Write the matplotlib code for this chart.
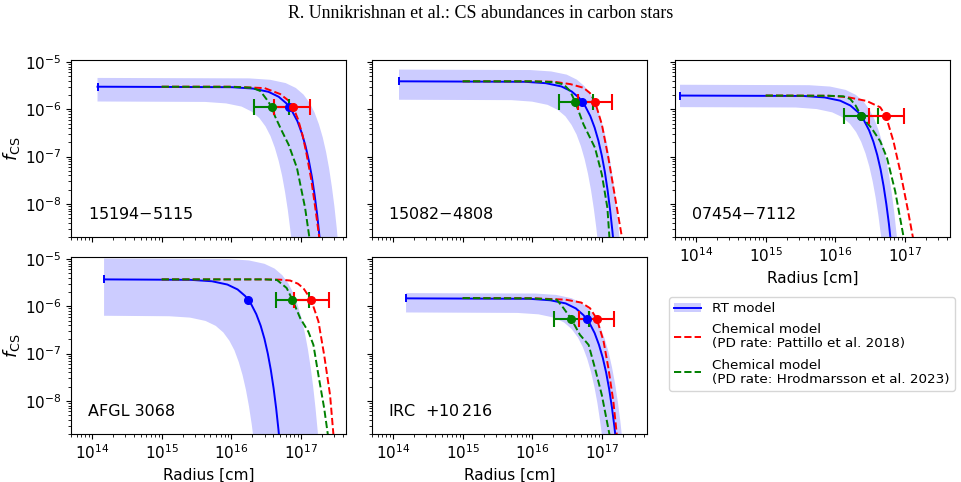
import matplotlib.pyplot as plt
from matplotlib.lines import Line2D
from matplotlib.patches import Patch

# ---- 15194-5115 ----
s1_rt_r = [1.2e14, 1.02e16, 2.04e16, 3.4e16, 4.76e16, 6.12e16, 7.48e16, 8.84e16, 1.02e17, 1.156e17,
           1.292e17, 1.428e17, 1.564e17, 1.7e17, 1.836e17, 1.972e17]
s1_rt_f = [3.0e-6, 2.93e-6, 2.74e-6, 2.34e-6, 1.84e-6, 1.34e-6, 8.9e-7, 5.6e-7, 3.15e-7, 1.67e-7,
           8.1e-8, 3.7e-8, 1.51e-8, 5.8e-9, 2.0e-9, 6.7e-10]
s1_hi_r = [1.2e14, 1.8e16, 3.6e16, 6.0e16, 8.4e16, 1.08e17, 1.32e17, 1.56e17, 1.8e17, 2.04e17,
           2.28e17, 2.52e17, 2.76e17, 3.0e17, 3.24e17, 3.48e17]
s1_hi_f = [4.6e-6, 4.5e-6, 4.2e-6, 3.58e-6, 2.82e-6, 2.05e-6, 1.37e-6, 8.5e-7, 4.8e-7, 2.56e-7,
           1.25e-7, 5.6e-8, 2.3e-8, 8.9e-9, 3.1e-9, 1.0e-9]
s1_lo_r = [1.2e14, 4.2e15, 8.4e15, 1.4e16, 1.96e16, 2.52e16, 3.08e16, 3.64e16, 4.2e16, 4.76e16,
           5.32e16, 5.88e16, 6.44e16, 7.0e16, 7.56e16, 8.12e16]
s1_lo_f = [1.46e-6, 1.43e-6, 1.33e-6, 1.14e-6, 8.9e-7, 6.5e-7, 4.35e-7, 2.7e-7, 1.53e-7, 8.1e-8,
           4.0e-8, 1.78e-8, 7.4e-9, 2.8e-9, 1.0e-9, 3.3e-10]
s1_red_r = [1e15, 1e16, 3e16, 5e16, 6.5e16, 7.6e16, 9e16, 1.05e17, 1.2e17, 1.4e17, 1.6e17, 1.8e17, 1.95e17]
s1_red_f = [3.0e-6, 3.0e-6, 2.8e-6, 2.1e-6, 1.55e-6, 1.15e-6, 6.2e-7, 2.8e-7, 1.1e-7, 3.2e-8, 8e-9, 2.2e-9, 8e-10]
s1_grn_r = [1e15, 1e16, 2e16, 2.6e16, 3.2e16, 3.8e16, 4.2e16, 5.3e16, 6.6e16, 8.7e16, 1.14e17, 1.31e17, 1.4e17]
s1_grn_f = [3.0e-6, 2.98e-6, 2.85e-6, 2.43e-6, 1.62e-6, 1.11e-6, 7.2e-7, 3.45e-7, 1.8e-7, 5.8e-8, 8.2e-9, 2e-9, 8e-10]
s1_pts = {'rt': (6.8e16, 1.11e-6), 'red': (7.6e16, 1.11e-6, 4.1e16, 1.34e17),
          'grn': (3.8e16, 1.11e-6, 2.1e16, 6.6e16)}

# ---- 15082-4808 ----
s2_rt_r = [1.22e14, 7.8e15, 1.56e16, 2.6e16, 3.64e16, 4.68e16, 5.72e16, 6.76e16, 7.8e16, 8.84e16,
           9.88e16, 1.092e17, 1.196e17, 1.3e17, 1.404e17, 1.508e17]
s2_rt_f = [3.9e-6, 3.81e-6, 3.56e-6, 3.04e-6, 2.39e-6, 1.74e-6, 1.16e-6, 7.2e-7, 4.1e-7, 2.17e-7,
           1.06e-7, 4.8e-8, 1.97e-8, 7.5e-9, 2.65e-9, 8.7e-10]
s2_hi_r = [1.22e14, 9.3e15, 1.86e16, 3.1e16, 4.34e16, 5.58e16, 6.82e16, 8.06e16, 9.3e16, 1.054e17,
           1.178e17, 1.302e17, 1.426e17, 1.55e17, 1.674e17, 1.798e17]
s2_hi_f = [6.9e-6, 6.75e-6, 6.3e-6, 5.4e-6, 4.23e-6, 3.07e-6, 2.06e-6, 1.28e-6, 7.2e-7, 3.84e-7,
           1.87e-7, 8.4e-8, 3.5e-8, 1.33e-8, 4.7e-9, 1.54e-9]
s2_lo_r = [1.22e14, 5.0e15, 9.9e15, 1.65e16, 2.31e16, 2.97e16, 3.63e16, 4.29e16, 4.95e16, 5.61e16,
           6.27e16, 6.93e16, 7.59e16, 8.25e16, 8.91e16, 9.57e16]
s2_lo_f = [1.59e-6, 1.56e-6, 1.45e-6, 1.24e-6, 9.7e-7, 7.1e-7, 4.7e-7, 2.94e-7, 1.67e-7, 8.8e-8,
           4.3e-8, 1.94e-8, 8.0e-9, 3.1e-9, 1.08e-9, 3.5e-10]
s2_red_r = [1e15, 1e16, 2e16, 3.5e16, 5.4e16, 6.7e16, 7.9e16, 9.9e16, 1.23e17, 1.54e17, 1.92e17, 2.05e17]
s2_red_f = [3.9e-6, 3.9e-6, 3.83e-6, 3.4e-6, 2.85e-6, 2.2e-6, 1.44e-6, 4.8e-7, 9.3e-8, 1.33e-8, 2e-9, 9e-10]
s2_grn_r = [1e15, 1e16, 2e16, 2.8e16, 3.47e16, 4.1e16, 5.4e16, 7.9e16, 9.9e16, 1.19e17, 1.27e17, 1.33e17]
s2_grn_f = [3.9e-6, 3.9e-6, 3.75e-6, 3.36e-6, 2.43e-6, 1.44e-6, 4.8e-7, 1.53e-7, 4.2e-8, 8.2e-9, 2e-9, 9e-10]
s2_pts = {'rt': (5.2e16, 1.44e-6), 'red': (7.9e16, 1.44e-6, 4.5e16, 1.38e17),
          'grn': (4.1e16, 1.44e-6, 2.4e16, 7.35e16)}

# ---- 07454-7112 ----
s3_rt_r = [5.9e13, 3.5e15, 7.0e15, 1.17e16, 1.64e16, 2.11e16, 2.57e16, 3.04e16, 3.51e16, 3.98e16,
           4.45e16, 4.91e16, 5.38e16, 5.85e16, 6.32e16, 6.79e16]
s3_rt_f = [1.95e-6, 1.91e-6, 1.78e-6, 1.52e-6, 1.2e-6, 8.7e-7, 5.8e-7, 3.6e-7, 2.05e-7, 1.08e-7,
           5.3e-8, 2.38e-8, 9.8e-9, 3.8e-9, 1.33e-9, 4.3e-10]
s3_hi_r = [5.9e13, 4.2e15, 8.4e15, 1.4e16, 1.96e16, 2.52e16, 3.08e16, 3.64e16, 4.2e16, 4.76e16,
           5.32e16, 5.88e16, 6.44e16, 7.0e16, 7.56e16, 8.12e16]
s3_hi_f = [3.3e-6, 3.23e-6, 3.02e-6, 2.57e-6, 2.02e-6, 1.47e-6, 9.8e-7, 6.1e-7, 3.47e-7, 1.83e-7,
           8.9e-8, 4.0e-8, 1.66e-8, 6.4e-9, 2.24e-9, 7.4e-10]
s3_lo_r = [5.9e13, 2.7e15, 5.4e15, 9.0e15, 1.26e16, 1.62e16, 1.98e16, 2.34e16, 2.7e16, 3.06e16,
           3.42e16, 3.78e16, 4.14e16, 4.5e16, 4.86e16, 5.22e16]
s3_lo_f = [1.11e-6, 1.09e-6, 1.01e-6, 8.6e-7, 6.8e-7, 4.9e-7, 3.3e-7, 2.05e-7, 1.17e-7, 6.2e-8,
           3.0e-8, 1.35e-8, 5.6e-9, 2.14e-9, 7.5e-10, 2.5e-10]
s3_red_r = [1e15, 8e15, 1.5e16, 2.8e16, 4.4e16, 5.3e16, 6.8e16, 8.5e16, 1.08e17, 1.29e17, 1.38e17]
s3_red_f = [1.95e-6, 1.93e-6, 1.8e-6, 1.5e-6, 1.1e-6, 7.2e-7, 2.1e-7, 4.9e-8, 8.2e-9, 2e-9, 9e-10]
s3_grn_r = [1e15, 8e15, 1.3e16, 1.63e16, 1.95e16, 2.34e16, 3.3e16, 4.4e16, 5.5e16, 7.2e16, 9.5e16, 1.0e17]
s3_grn_f = [1.95e-6, 1.93e-6, 1.88e-6, 1.65e-6, 1.2e-6, 7.2e-7, 4.0e-7, 2.1e-7, 9.3e-8, 1.85e-8, 2e-9, 9e-10]
s3_pts = {'rt': (2.34e16, 7.2e-7), 'red': (5.3e16, 7.2e-7, 3.0e16, 9.5e16),
          'grn': (2.34e16, 7.2e-7, 1.33e16, 4.1e16)}

# ---- AFGL 3068 ----
s4_rt_r = [1.49e14, 2.6e15, 5.25e15, 8.75e15, 1.225e16, 1.575e16, 1.925e16, 2.275e16, 2.625e16, 2.975e16,
           3.325e16, 3.675e16, 4.025e16, 4.375e16, 4.725e16, 5.075e16]
s4_rt_f = [3.7e-6, 3.62e-6, 3.38e-6, 2.88e-6, 2.27e-6, 1.65e-6, 1.1e-6, 6.8e-7, 3.9e-7, 2.06e-7,
           1.0e-7, 4.5e-8, 1.86e-8, 7.1e-9, 2.5e-9, 8.3e-10]
s4_hi_r = [1.49e14, 8.9e15, 1.79e16, 2.98e16, 4.17e16, 5.36e16, 6.55e16, 7.74e16, 8.93e16, 1.01e17,
           1.13e17, 1.25e17, 1.37e17, 1.49e17, 1.61e17, 1.73e17, 1.85e17]
s4_hi_f = [1.02e-5, 9.98e-6, 9.3e-6, 7.9e-6, 6.25e-6, 4.54e-6, 3.04e-6, 1.89e-6, 1.07e-6, 5.7e-7,
           2.76e-7, 1.24e-7, 5.1e-8, 1.97e-8, 6.9e-9, 2.27e-9, 6.8e-10]
s4_lo_r = [1.49e14, 1.28e15, 2.55e15, 4.25e15, 5.95e15, 7.65e15, 9.35e15, 1.105e16, 1.275e16, 1.445e16,
           1.615e16, 1.785e16, 1.955e16, 2.125e16, 2.295e16, 2.465e16]
s4_lo_f = [6.3e-7, 6.16e-7, 5.76e-7, 4.9e-7, 3.86e-7, 2.8e-7, 1.87e-7, 1.17e-7, 6.6e-8, 3.5e-8,
           1.71e-8, 7.7e-9, 3.2e-9, 1.22e-9, 4.3e-10, 1.4e-10]
s4_red_r = [1e15, 3e16, 5e16, 6.95e16, 9e16, 1.08e17, 1.39e17, 1.77e17, 2.14e17, 2.6e17, 2.9e17, 3.05e17]
s4_red_f = [3.7e-6, 3.7e-6, 3.65e-6, 3.5e-6, 3.0e-6, 2.4e-6, 1.37e-6, 4.8e-7, 9.3e-8, 1.33e-8, 2e-9, 8e-10]
s4_grn_r = [1e15, 3e16, 4.5e16, 6.2e16, 7.5e16, 9.7e16, 1.27e17, 1.5e17, 1.77e17, 2.14e17, 2.41e17, 2.55e17]
s4_grn_f = [3.7e-6, 3.7e-6, 3.6e-6, 2.43e-6, 1.37e-6, 5.6e-7, 2.9e-7, 1.53e-7, 3.5e-8, 7e-9, 2e-9, 8e-10]
s4_pts = {'rt': (1.75e16, 1.37e-6), 'red': (1.39e17, 1.37e-6, 7.9e16, 2.5e17),
          'grn': (7.5e16, 1.37e-6, 4.3e16, 1.31e17)}

# ---- IRC +10216 ----
s5_rt_r = [1.54e14, 9e15, 1.8e16, 3.0e16, 4.2e16, 5.4e16, 6.6e16, 7.8e16, 9.0e16, 1.02e17,
           1.14e17, 1.26e17, 1.38e17, 1.5e17, 1.62e17, 1.74e17]
s5_rt_f = [1.47e-6, 1.44e-6, 1.34e-6, 1.15e-6, 9.0e-7, 6.5e-7, 4.4e-7, 2.72e-7, 1.54e-7, 8.2e-8,
           4.0e-8, 1.79e-8, 7.4e-9, 2.84e-9, 1.0e-9, 3.3e-10]
s5_hi_r = [1.54e14, 1.1e16, 2.19e16, 3.65e16, 5.11e16, 6.57e16, 8.03e16, 9.49e16, 1.095e17, 1.241e17,
           1.387e17, 1.533e17, 1.679e17, 1.825e17, 1.971e17, 2.117e17]
s5_hi_f = [1.9e-6, 1.86e-6, 1.74e-6, 1.48e-6, 1.16e-6, 8.5e-7, 5.7e-7, 3.5e-7, 2.0e-7, 1.06e-7,
           5.1e-8, 2.3e-8, 9.6e-9, 3.7e-9, 1.29e-9, 4.2e-10]
s5_lo_r = [1.54e14, 6.1e15, 1.22e16, 2.04e16, 2.85e16, 3.66e16, 4.48e16, 5.29e16, 6.1e16, 6.92e16,
           7.73e16, 8.55e16, 9.36e16, 1.018e17, 1.099e17, 1.18e17]
s5_lo_f = [7.4e-7, 7.24e-7, 6.76e-7, 5.76e-7, 4.54e-7, 3.29e-7, 2.2e-7, 1.37e-7, 7.8e-8, 4.1e-8,
           2.0e-8, 9.0e-9, 3.7e-9, 1.43e-9, 5.0e-10, 1.65e-10]
s5_red_r = [1e15, 1e16, 3e16, 5e16, 6.7e16, 8.4e16, 1.05e17, 1.23e17, 1.45e17, 1.62e17, 1.7e17]
s5_red_f = [1.49e-6, 1.48e-6, 1.38e-6, 1.2e-6, 9.1e-7, 5.4e-7, 1.8e-7, 4.9e-8, 9.6e-9, 2e-9, 9e-10]
s5_grn_r = [1e15, 1e16, 2.24e16, 2.8e16, 3.6e16, 4.8e16, 6.4e16, 7.9e16, 9.9e16, 1.27e17, 1.35e17]
s5_grn_f = [1.49e-6, 1.47e-6, 1.37e-6, 9.1e-7, 5.4e-7, 2.5e-7, 1.53e-7, 4.9e-8, 1.33e-8, 2e-9, 8e-10]
s5_pts = {'rt': (6.0e16, 5.4e-7), 'red': (8.4e16, 5.4e-7, 4.7e16, 1.5e17),
          'grn': (3.6e16, 5.4e-7, 2.07e16, 6.4e16)}

star_names = ['15194$-$5115', '15082$-$4808', '07454$-$7112', 'AFGL 3068', 'IRC  $+10\\,216$']

stars = [
    (s1_rt_r, s1_rt_f, s1_hi_r, s1_hi_f, s1_lo_r, s1_lo_f, s1_red_r, s1_red_f, s1_grn_r, s1_grn_f, s1_pts),
    (s2_rt_r, s2_rt_f, s2_hi_r, s2_hi_f, s2_lo_r, s2_lo_f, s2_red_r, s2_red_f, s2_grn_r, s2_grn_f, s2_pts),
    (s3_rt_r, s3_rt_f, s3_hi_r, s3_hi_f, s3_lo_r, s3_lo_f, s3_red_r, s3_red_f, s3_grn_r, s3_grn_f, s3_pts),
    (s4_rt_r, s4_rt_f, s4_hi_r, s4_hi_f, s4_lo_r, s4_lo_f, s4_red_r, s4_red_f, s4_grn_r, s4_grn_f, s4_pts),
    (s5_rt_r, s5_rt_f, s5_hi_r, s5_hi_f, s5_lo_r, s5_lo_f, s5_red_r, s5_red_f, s5_grn_r, s5_grn_f, s5_pts),
]

plt.rcParams['font.family'] = 'DejaVu Sans'
plt.rcParams['mathtext.fontset'] = 'dejavusans'

W, H = 962, 482
fig = plt.figure(figsize=(W / 100, H / 100), dpi=100)

# pixel boxes of the panels (left, top)
lefts = [71, 372, 675]
tops = [60, 257]
aw, ah = 275, 177

fig.text(0.5, 1 - 14 / H, 'R. Unnikrishnan et al.: CS abundances in carbon stars',
         ha='center', va='center', fontsize=12.9, family='Liberation Serif')


def draw_panel(ax, d, name):
    rt_r, rt_f, hi_r, hi_f, lo_r, lo_f, red_r, red_f, grn_r, grn_f, pts = d
    ax.fill(list(hi_r) + list(lo_r[::-1]), list(hi_f) + list(lo_f[::-1]),
            color='blue', alpha=0.2, lw=0)
    ax.plot(rt_r, rt_f, color='blue', lw=1.4, marker='|', markevery=[0], ms=6, mew=1.4)
    ax.plot(red_r, red_f, color='red', ls='--', lw=1.4)
    ax.plot(grn_r, grn_f, color='green', ls='--', lw=1.4)
    g = pts['grn']
    ax.errorbar([g[0]], [g[1]], xerr=[[g[0] - g[2]], [g[3] - g[0]]], fmt='o', color='green',
                ms=5.5, capsize=6, elinewidth=1.5, capthick=1.5)
    r = pts['red']
    ax.errorbar([r[0]], [r[1]], xerr=[[r[0] - r[2]], [r[3] - r[0]]], fmt='o', color='red',
                ms=5.5, capsize=6, elinewidth=1.5, capthick=1.5)
    ax.plot([pts['rt'][0]], [pts['rt'][1]], 'o', color='blue', ms=5.5)
    ax.set_xscale('log')
    ax.set_yscale('log')
    ax.set_xlim(5e13, 4.4e17)
    ax.set_ylim(2e-9, 1.1e-5)
    ax.text(0.06, 0.1, name, transform=ax.transAxes, fontsize=11.5)
    ax.tick_params(labelsize=11)


slots = [(0, 0), (0, 1), (0, 2), (1, 0), (1, 1)]
for i, (row, col) in enumerate(slots):
    l = lefts[col] / W
    b = 1 - (tops[row] + ah) / H
    ax = fig.add_axes([l, b, aw / W, ah / H])
    draw_panel(ax, stars[i], star_names[i])
    if col == 0:
        ax.set_ylabel('$f_{\\rm CS}$', fontsize=13)
        ax.yaxis.set_label_coords(-0.18, 0.5)
    else:
        ax.tick_params(labelleft=False)
    if row == 1 or col == 2:
        ax.set_xlabel('Radius [cm]', fontsize=11)
    else:
        ax.tick_params(labelbottom=False)

handles = [(Patch(color='blue', alpha=0.2, lw=0), Line2D([], [], color='blue', lw=1.4)),
           Line2D([], [], color='red', ls='--', lw=1.4),
           Line2D([], [], color='green', ls='--', lw=1.4)]
labels = ['RT model', 'Chemical model\n(PD rate: Pattillo et al. 2018)',
          'Chemical model\n(PD rate: Hrodmarsson et al. 2023)']
leg = fig.legend(handles, labels, loc='upper left', bbox_to_anchor=(669 / W, 1 - 297 / H),
                 fontsize=9.7, frameon=True, borderaxespad=0, labelspacing=0.6)
for t in leg.get_texts():
    t.set_linespacing(1.1)

fig.savefig('out.png', dpi=100)
